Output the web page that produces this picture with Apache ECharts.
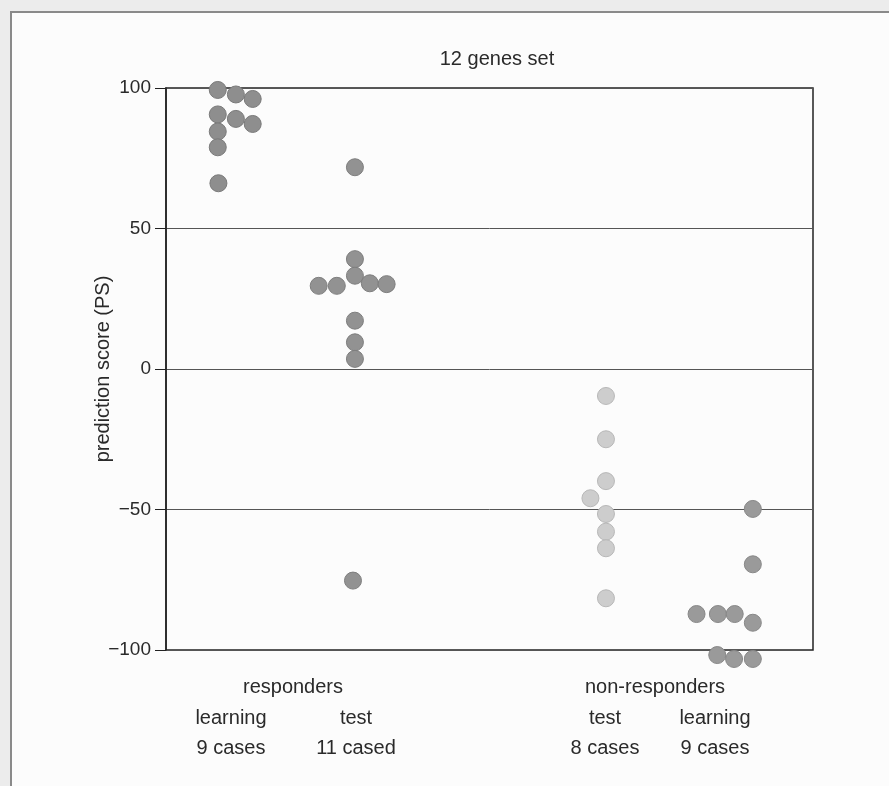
<!DOCTYPE html>
<html>
<head>
<meta charset="utf-8">
<script src="https://cdn.jsdelivr.net/npm/echarts@6/dist/echarts.min.js"></script>
<style>html,body{margin:0;padding:0;background:#ececec}#c{width:889px;height:786px}</style>
</head>
<body>
<div id="c"></div>
<script>
// ---- data ----
const title = '12 genes set';
const yAxisName = 'prediction score (PS)';
const yTicks = [-100, -50, 0, 50, 100];
// [x position (0-100 across plot), prediction score]
const respLearning = [[8.0,99.3],[10.8,97.7],[13.4,96.1],[8.0,90.6],[10.8,89.0],[13.4,87.2],[8.0,84.5],[8.0,78.9],[8.1,66.1]];
const respTest = [[29.2,71.8],[29.2,39.1],[29.2,33.2],[23.6,29.6],[26.4,29.6],[31.5,30.5],[34.1,30.2],[29.2,17.2],[29.2,9.5],[29.2,3.6],[28.9,-75.3]];
const nonRespTest = [[68.0,-9.6],[68.0,-25.0],[68.0,-39.9],[65.6,-46.0],[68.0,-51.6],[68.0,-57.9],[68.0,-63.8],[68.0,-81.6]];
const nonRespLearning = [[90.7,-49.8],[90.7,-69.5],[82.0,-87.2],[85.3,-87.2],[87.9,-87.2],[90.7,-90.3],[85.2,-101.8],[87.8,-103.2],[90.7,-103.2]];
const groupNames = ['responders', 'non-responders'];
const subLabels = ['learning', 'test', 'test', 'learning'];
const caseLabels = ['9 cases', '11 cased', '8 cases', '9 cases'];

// ---- layout ----
const chart = echarts.init(document.getElementById('c'), null, {renderer: 'canvas'});
const font = '"Liberation Sans", Arial, sans-serif';
const txtColor = '#2a2a2a';
const G = {left: 166, top: 88, right: 76, bottom: 136};
const dot = (color, border) => ({color: color, borderColor: border, borderWidth: 1, opacity: 1});

function textEl(x, y, text) {
  return {type: 'text', x: x, y: y, style: {text: text, fill: txtColor, font: '20px ' + font, textAlign: 'center', textVerticalAlign: 'middle'}, z: 10};
}

const groupX = [293, 655];
const subX = [231, 356, 605, 715];
const graphics = [
  {type: 'rect', shape: {x: 11, y: 12, width: 900, height: 800}, style: {fill: '#fcfcfc', stroke: '#8a8a8a', lineWidth: 2}, z: -10}
];
groupNames.forEach((t, i) => graphics.push(textEl(groupX[i], 687, t)));
subLabels.forEach((t, i) => graphics.push(textEl(subX[i], 718, t)));
caseLabels.forEach((t, i) => graphics.push(textEl(subX[i], 748, t)));

const option = {
  backgroundColor: '#ececec',
  animation: false,
  title: {text: title, left: 492, top: 54, textAlign: 'center', textVerticalAlign: 'middle',
    textStyle: {fontFamily: font, fontSize: 20, fontWeight: 'normal', color: txtColor}},
  grid: Object.assign({show: true, borderColor: '#222', borderWidth: 1.5, backgroundColor: 'transparent'}, G),
  xAxis: {type: 'value', min: 0, max: 100, show: false},
  yAxis: {
    type: 'value', min: -100, max: 100, interval: 50,
    name: yAxisName, nameLocation: 'middle', nameGap: 53, nameRotate: 90, nameMoveOverlap: false,
    nameTextStyle: {fontFamily: font, fontSize: 20, color: txtColor},
    axisLine: {show: true, lineStyle: {color: '#222', width: 1.5}},
    axisTick: {show: true, length: 11, lineStyle: {color: '#222'}},
    axisLabel: {fontFamily: font, fontSize: 19, color: txtColor, margin: 15,
      formatter: v => String(v).replace('-', '\u2212')},
    splitLine: {show: true, lineStyle: {color: '#555', width: 1}}
  },
  series: [
    {type: 'scatter', data: respLearning, symbolSize: 17, clip: false, itemStyle: dot('#8e8e8e', '#7a7a7a')},
    {type: 'scatter', data: respTest, symbolSize: 17, clip: false, itemStyle: dot('#929292', '#7e7e7e')},
    {type: 'scatter', data: nonRespTest, symbolSize: 17, clip: false, itemStyle: dot('#cdcdcd', '#b8b8b8')},
    {type: 'scatter', data: nonRespLearning, symbolSize: 17, clip: false, itemStyle: dot('#9a9a9a', '#888')}
  ],
  graphic: graphics
};
chart.setOption(option);
</script>
</body>
</html>
